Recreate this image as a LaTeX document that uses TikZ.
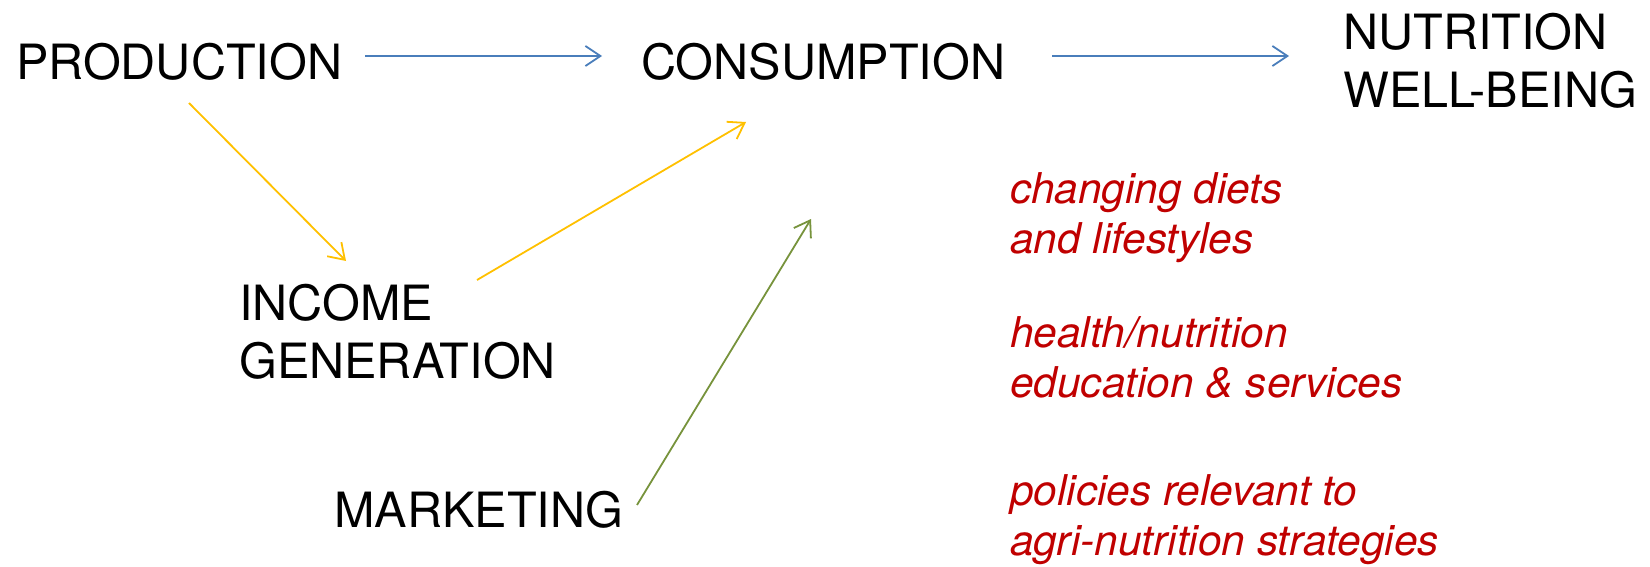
\documentclass[tikz,border=0pt]{standalone}
\usepackage{fontspec}
\setmainfont{TeX Gyre Heros}
\usetikzlibrary{arrows.meta,calc}
\definecolor{arrblue}{HTML}{4A7EBB}
\definecolor{arryellow}{HTML}{FFC000}
\definecolor{arrgreen}{HTML}{77933C}
\definecolor{txtred}{HTML}{C00000}
\begin{document}
\begin{tikzpicture}[x=1pt,y=-1pt,
  bigtext/.style={inner sep=0pt,anchor=base west,align=left,font=\fontsize{48.6}{58}\selectfont},
  redtext/.style={inner sep=0pt,anchor=base west,align=left,text=txtred,font=\fontsize{42.4}{50}\selectfont\itshape},
  flowarrow/.style={line width=1.8pt,-{Straight Barb[length=15pt,width=20pt,line width=1.8pt]}},
  bluearrow/.style={flowarrow,draw=arrblue},
  yellowarrow/.style={flowarrow,draw=arryellow},
  greenarrow/.style={flowarrow,draw=arrgreen}]
\useasboundingbox (0,0) rectangle (1650,567);
\node[bigtext] (prod) at (16,80) {PRODUCTION};
\node[bigtext] (cons) at (641,80) {CONSUMPTION};
\node[bigtext] (nut) at (1343,108) {NUTRITION\\WELL-BEING};
\node[bigtext] (inc) at (239,378) {INCOME\\GENERATION};
\node[bigtext] (mkt) at (334,527) {MARKETING};
\node[redtext] (diets) at (1010,253) {changing diets\\and lifestyles};
\node[redtext] (health) at (1010,397) {health/nutrition\\education \& services};
\node[redtext] (policy) at (1010,555) {policies relevant to\\agri-nutrition strategies};
\draw[bluearrow] ($(prod.base west)+(349,-24)$) -- ($(cons.base west)+(-39,-24)$);
\draw[bluearrow] ($(cons.base west)+(411,-24)$) -- ($(cons.base west)+(648,-24)$);
\draw[yellowarrow] ($(prod.base west)+(173,23)$) -- ($(inc.base west)+(107,-117)$);
\draw[yellowarrow] ($(inc.base west)+(238,-98)$) -- ($(cons.base west)+(105,42)$);
\draw[greenarrow] ($(mkt.base west)+(303,-22)$) -- ($(cons.base west)+(170,139)$);
\end{tikzpicture}
\end{document}
